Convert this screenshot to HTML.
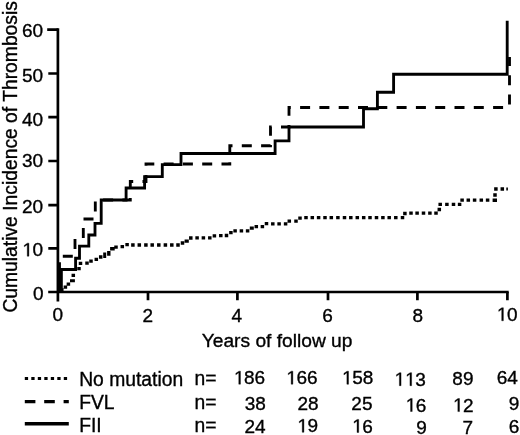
<!DOCTYPE html>
<html><head><meta charset="utf-8">
<style>
html,body{margin:0;padding:0;background:#fff;}
body{width:520px;height:435px;overflow:hidden;}
svg{display:block;will-change:transform;}
text{font-family:"Liberation Sans",sans-serif;fill:#000;stroke:#000;stroke-width:0.35px;}
</style></head>
<body>
<svg width="520" height="435" viewBox="0 0 520 435">
<rect width="520" height="435" fill="#fff"/>
<!-- y axis label -->
<text transform="translate(16.8,312.6) rotate(-90)" font-size="19.3">Cumulative Incidence of Thrombosis</text>
<!-- y tick labels -->
<g font-size="19" text-anchor="end">
<text x="43.1" y="36.6">60</text>
<text x="43.1" y="82.1">50</text>
<text x="43.1" y="125.8">40</text>
<text x="43.1" y="167.3">30</text>
<text x="43.1" y="212.7">20</text>
<text x="43.1" y="256.2"> 0</text>
<text x="43.5" y="299.8">0</text>
</g>
<!-- x tick labels -->
<g font-size="19" text-anchor="middle">
<text x="57.9" y="321.3">0</text>
<text x="147.9" y="321.5">2</text>
<text x="236.8" y="321.5">4</text>
<text x="327.5" y="321.5">6</text>
<text x="417.9" y="321.5">8</text>
<text x="507" y="320.8"> 0</text>
</g>
<text x="201.7" y="346.9" font-size="19.2">Years of follow up</text>
<!-- axes -->
<g stroke="#000" stroke-width="2.7" fill="none" stroke-linecap="butt">
<path d="M57.9,28.3 V301.6"/>
<path d="M48.2,292 H508.7"/>
<path d="M47.2,29.7 H57.9 M48.3,73.5 H57.9 M48.3,117.2 H57.9 M48.3,161 H57.9 M48.3,205.1 H57.9 M48.3,248.4 H57.9"/>
<path d="M148,292 V300.2 M237.4,292 V300.2 M328,292 V300.2 M417.4,292 V300.2 M507.4,292 V300.2"/>
</g>
<!-- curves -->
<g fill="none" stroke="#000" stroke-width="2.85" stroke-linejoin="miter" stroke-linecap="butt">
<path id="fii" d="M59.5,292.3 V269.5 H75.6 V258.2 H79.5 V246.1 H88.8 V235 H95 V223.3 H101.2 V200 H126.1 V188 H144.6 V176.6 H162.3 V164.6 H181 V153.5 H275.1 V140.9 H289 V127 H363.5 V108.7 H377.4 V92.2 H393.6 V74.2 H507.2 V20.7"/>
<path id="fvl" stroke-dasharray="10 9.3" stroke-dashoffset="18.5" d="M59.5,292.3 V256.2 H75 V239 H83.3 V219 H95.3 V200 H130.3 V181.5 H146 V164 H229.8 V145.7 H270.5 V127 H289 V107.5 H509.5 V57"/>
</g>
<path id="nomdots" fill="#000" d="M60.05,288.15h3.5v3.3h-3.5z M63.65,285.55h3.5v3.3h-3.5z M66.65,282.45h3.5v3.3h-3.5z M71.55,273.65h3.5v3.3h-3.5z M77.25,266.95h3.5v3.3h-3.5z M78.75,261.75h3.5v3.3h-3.5z M85.25,261.55h3.5v3.3h-3.5z M89.25,259.55h3.5v3.3h-3.5z M94.55,257.65h3.5v3.3h-3.5z M98.95,255.35h3.5v3.3h-3.5z M103.20,252.50h3.0v5.6h-3.0z M107.10,251.10h3.4v4.6h-3.4z M110.10,247.10h4.6v3.4h-4.6z M114.25,245.55h3.5v3.3h-3.5z M120.55,244.95h3.5v3.3h-3.5z M125.35,243.05h3.5v3.3h-3.5z M131.15,243.35h3.5v3.3h-3.5z M137.55,243.35h3.5v3.3h-3.5z M144.15,243.35h3.5v3.3h-3.5z M150.45,243.35h3.5v3.3h-3.5z M157.05,243.35h3.5v3.3h-3.5z M163.65,243.35h3.5v3.3h-3.5z M170.05,243.35h3.5v3.3h-3.5z M176.25,243.35h3.5v3.3h-3.5z M180.75,241.35h3.5v3.3h-3.5z M184.60,239.40h4.2v3.4h-4.2z M189.05,236.35h3.5v3.3h-3.5z M195.35,236.15h3.5v3.3h-3.5z M201.65,236.15h3.5v3.3h-3.5z M208.05,236.15h3.5v3.3h-3.5z M212.65,234.15h3.5v3.3h-3.5z M219.05,234.05h3.5v3.3h-3.5z M224.75,233.85h3.5v3.3h-3.5z M229.15,231.05h3.5v3.3h-3.5z M233.35,229.15h3.5v3.3h-3.5z M239.65,229.15h3.5v3.3h-3.5z M245.85,229.15h3.5v3.3h-3.5z M249.80,226.55h4.0v3.3h-4.0z M254.55,224.95h3.5v3.3h-3.5z M260.65,224.95h3.5v3.3h-3.5z M264.75,221.95h3.5v3.3h-3.5z M271.05,222.15h3.5v3.3h-3.5z M277.35,222.15h3.5v3.3h-3.5z M283.85,222.15h3.5v3.3h-3.5z M287.55,219.55h3.5v3.3h-3.5z M294.25,219.55h3.5v3.3h-3.5z M298.25,216.55h3.5v3.3h-3.5z M304.25,215.95h3.5v3.3h-3.5z M310.55,215.95h3.5v3.3h-3.5z M316.85,215.95h3.5v3.3h-3.5z M323.25,215.95h3.5v3.3h-3.5z M329.55,215.95h3.5v3.3h-3.5z M336.15,215.95h3.5v3.3h-3.5z M342.75,215.95h3.5v3.3h-3.5z M349.05,215.95h3.5v3.3h-3.5z M355.55,215.95h3.5v3.3h-3.5z M361.95,215.95h3.5v3.3h-3.5z M368.25,215.95h3.5v3.3h-3.5z M374.75,215.95h3.5v3.3h-3.5z M381.15,215.95h3.5v3.3h-3.5z M387.45,215.95h3.5v3.3h-3.5z M394.05,215.95h3.5v3.3h-3.5z M400.75,215.95h3.5v3.3h-3.5z M403.15,211.85h3.5v3.3h-3.5z M409.25,211.55h3.5v3.3h-3.5z M415.35,211.55h3.5v3.3h-3.5z M421.75,211.55h3.5v3.3h-3.5z M428.15,211.55h3.5v3.3h-3.5z M434.25,211.55h3.5v3.3h-3.5z M437.55,207.85h3.5v3.3h-3.5z M438.45,202.65h3.5v3.3h-3.5z M445.15,202.65h3.5v3.3h-3.5z M451.75,202.65h3.5v3.3h-3.5z M457.85,202.65h3.5v3.3h-3.5z M460.35,198.55h3.5v3.3h-3.5z M466.55,198.55h3.5v3.3h-3.5z M472.85,198.55h3.5v3.3h-3.5z M479.55,198.55h3.5v3.3h-3.5z M485.85,198.55h3.5v3.3h-3.5z M492.60,198.50h4.4v3.4h-4.4z M493.25,193.35h3.5v3.3h-3.5z M494.15,187.35h3.5v3.3h-3.5z M500.55,187.35h3.5v3.3h-3.5z M506.3,187.5h1.6v3h-1.6z M70,279.2h4.9v3.1h-4.9z"/>
<rect id="band" x="58" y="271" width="4.8" height="21" fill="#000"/>
<path id="ones" transform="translate(0.5,0)" fill="#000" stroke="#000" stroke-width="0.35" d="M26.74,256.20V244.72L23.79,246.83V245.25L26.88,243.13H28.42V256.20Z M501.21,320.80V309.32L498.26,311.43V309.85L501.35,307.73H502.89V320.80Z M238.28,384.20V372.72L235.33,374.83V373.25L238.42,371.13H239.96V384.20Z M290.68,384.20V372.72L287.73,374.83V373.25L290.82,371.13H292.36V384.20Z M346.38,384.30V372.82L343.43,374.93V373.35L346.52,371.23H348.06V384.30Z M398.88,385.70V374.22L395.93,376.33V374.75L399.02,372.63H400.56V385.70Z M409.44,385.70V374.22L406.49,376.33V374.75L409.58,372.63H411.12V385.70Z M410.04,411.50V400.02L407.09,402.13V400.55L410.18,398.43H411.72V411.50Z M457.34,411.60V400.12L454.39,402.23V400.65L457.48,398.53H459.02V411.60Z M301.74,432.30V420.82L298.79,422.93V421.35L301.88,419.23H303.42V432.30Z M356.54,432.50V421.02L353.59,423.13V421.55L356.68,419.43H358.22V432.50Z"/>
<!-- legend -->
<g fill="none" stroke="#000" stroke-linecap="butt">
<path d="M24.8,378.5 H68" stroke-width="3.2" stroke-dasharray="3.3 3.2"/>
<path d="M24.8,401.6 H68.8" stroke-width="3.4" stroke-dasharray="10.6 8.8"/>
<path d="M24.8,423.8 H68.8" stroke-width="3.6"/>
</g>
<g font-size="19.3">
<text x="79.2" y="386.2">No mutation</text>
<text x="79.2" y="408.9">FVL</text>
<text x="79.2" y="432.4">FII</text>
<text x="194.6" y="385.2">n=</text>
<text x="194.6" y="408.9">n=</text>
<text x="194.6" y="432.4">n=</text>
</g>
<g id="nums" font-size="19" text-anchor="end">
<text x="265.2" y="384.2"> 86</text><text x="317.6" y="384.2"> 66</text><text x="373.3" y="384.3"> 58</text><text x="425.8" y="385.7">  3</text><text x="473.5" y="385.3">89</text><text x="517.9" y="384.3">64</text>
<text x="265.8" y="410.2">38</text><text x="318.6" y="410.2">28</text><text x="372.5" y="410.2">25</text><text x="426.4" y="411.5"> 6</text><text x="473.7" y="411.6"> 2</text><text x="519.4" y="410.3">9</text>
<text x="265.6" y="432.6">24</text><text x="318.1" y="432.3"> 9</text><text x="372.9" y="432.5"> 6</text><text x="426.8" y="433.8">9</text><text x="473.2" y="433.6">7</text><text x="519.4" y="432.8">6</text>
</g>
</svg>
</body></html>
